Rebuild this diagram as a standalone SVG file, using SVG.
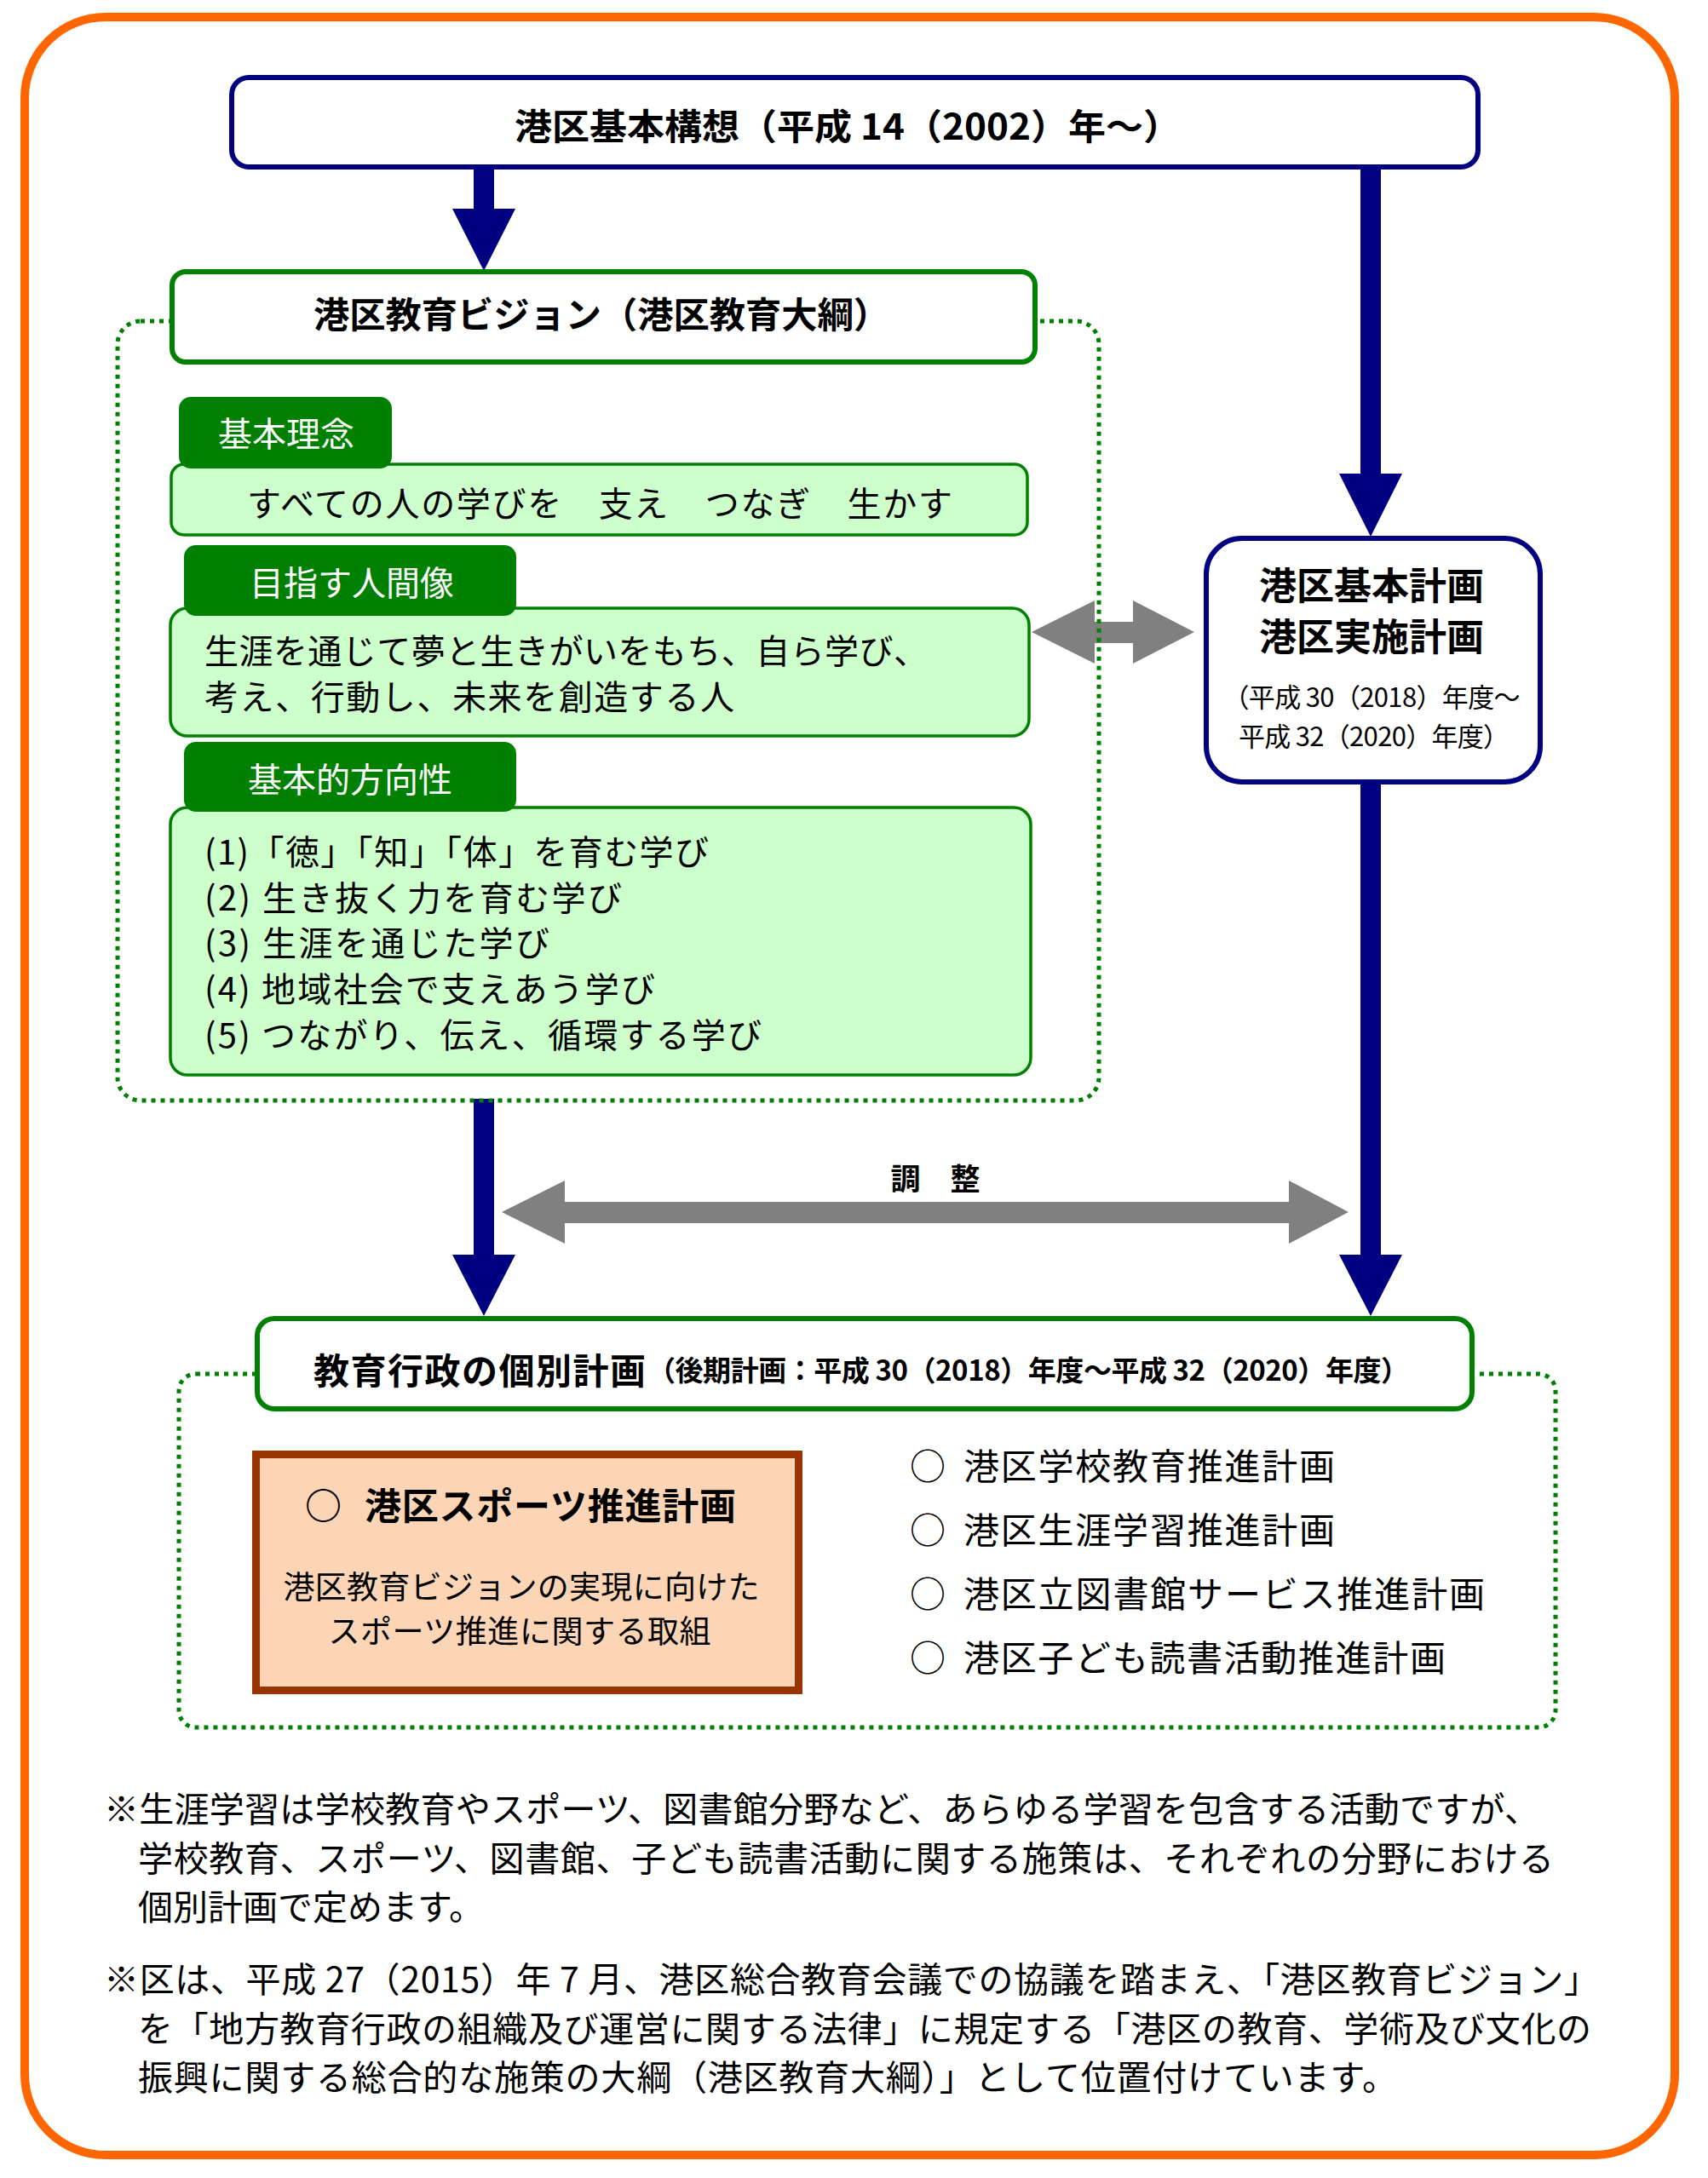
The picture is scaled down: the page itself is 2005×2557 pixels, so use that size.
<svg xmlns="http://www.w3.org/2000/svg" width="2005" height="2557" viewBox="0 0 2005 2557">
<style>
text { font-family: "Noto Sans CJK JP", "Noto Sans CJK SC", sans-serif; dominant-baseline: central; fill: #000; }
.b { font-weight: 700; }
.mid { text-anchor: middle; }
.navy { fill: #000080; }
.gray { fill: #808080; }
.dot { fill: none; stroke: #008000; stroke-width: 5; stroke-dasharray: 5 6; }
.lg { fill: #CCFFCC; stroke: #008000; stroke-width: 3.5; }
.tab { fill: #008000; }
.tabt { fill: #FFFFFF; font-size: 40px; text-anchor: middle; }
.body { font-size: 40px; }
.note { font-size: 41px; }
.list { font-size: 42px; }
</style>
<rect id="frame" x="29" y="20" width="1937" height="2510" rx="95" fill="#FFFFFF" stroke="#FF6600" stroke-width="10"/>

<g id="connectors">
  <polygon class="navy" points="556,196 580,196 580,245 605,245 568,318 531,245 556,245"/>
  <polygon class="navy" points="1597,196 1621,196 1621,556 1646,556 1609,630 1572,556 1597,556"/>
  <polygon class="navy" points="1597,918 1621,918 1621,1473 1646,1473 1609,1545 1572,1473 1597,1473"/>
  <polygon class="navy" points="556,1290 580,1290 580,1473 605,1473 568,1545 531,1473 556,1473"/>
  <polygon class="gray" points="1211,742 1285,705 1285,730 1330,730 1330,705 1402,742 1330,779 1330,755 1285,755 1285,779"/>
  <polygon class="gray" points="589,1423 663,1386 663,1411 1513,1411 1513,1386 1583,1423 1513,1460 1513,1436 663,1436 663,1460"/>
  <text class="b mid" x="1098" y="1381" font-size="35">調　整</text>
</g>

<g id="vision-group">
  <rect class="dot" x="138" y="377" width="1152" height="915" rx="27"/>
</g>

<g id="kihon-koso">
  <rect x="272" y="91" width="1463" height="105" rx="20" fill="#FFFFFF" stroke="#000080" stroke-width="6"/>
  <text class="b mid" x="995" y="145" font-size="42" textLength="782" lengthAdjust="spacingAndGlyphs">港区基本構想（平成 14（2002）年～）</text>
</g>

<g id="vision">
  <rect x="202" y="319" width="1013" height="106" rx="16" fill="#FFFFFF" stroke="#008000" stroke-width="6"/>
  <text class="b mid" x="706" y="366" font-size="42" textLength="676" lengthAdjust="spacingAndGlyphs">港区教育ビジョン（港区教育大綱）</text>
</g>

<g id="rinen">
  <rect class="lg" x="201" y="545" width="1005" height="83" rx="15"/>
  <rect class="tab" x="210" y="466" width="250" height="84" rx="14"/>
  <text class="tabt" x="336" y="507">基本理念</text>
  <text class="body" x="290" y="589" font-size="41" textLength="828">すべての人の学びを　支え　つなぎ　生かす</text>
</g>

<g id="ningenzo">
  <rect class="lg" x="200" y="714" width="1008" height="150" rx="20"/>
  <rect class="tab" x="216" y="640" width="390" height="83" rx="14"/>
  <text class="tabt" x="413" y="682">目指す人間像</text>
  <text class="body" x="240" y="762" textLength="849">生涯を通じて夢と生きがいをもち、自ら学び、</text>
  <text class="body" x="240" y="816" textLength="622">考え、行動し、未来を創造する人</text>
</g>

<g id="hokosei">
  <rect class="lg" x="200" y="948" width="1010" height="314" rx="20"/>
  <rect class="tab" x="216" y="871" width="390" height="82" rx="14"/>
  <text class="tabt" x="411" y="913">基本的方向性</text>
  <text class="body" x="240" y="998" textLength="592">(1)「徳」「知」「体」を育む学び</text>
  <text class="body" x="240" y="1052" textLength="490">(2) 生き抜く力を育む学び</text>
  <text class="body" x="240" y="1105" textLength="405">(3) 生涯を通じた学び</text>
  <text class="body" x="240" y="1159" textLength="529">(4) 地域社会で支えあう学び</text>
  <text class="body" x="240" y="1213" textLength="654">(5) つながり、伝え、循環する学び</text>
</g>

<g id="kihon-keikaku">
  <rect x="1416" y="632" width="392" height="286" rx="42" fill="#FFFFFF" stroke="#000080" stroke-width="6"/>
  <text class="b mid" x="1610" y="685" font-size="44">港区基本計画</text>
  <text class="b mid" x="1610" y="745" font-size="44">港区実施計画</text>
  <text class="mid" x="1610" y="816" font-size="31" textLength="349">（平成 30（2018）年度～</text>
  <text class="mid" x="1613" y="862" font-size="31" textLength="318">平成 32（2020）年度）</text>
</g>

<g id="kobetsu-group">
  <rect class="dot" x="210" y="1613" width="1616" height="415" rx="20"/>
</g>

<g id="kobetsu">
  <rect x="302" y="1548" width="1426" height="106" rx="20" fill="#FFFFFF" stroke="#008000" stroke-width="6"/>
  <text class="b" x="368" y="1606" font-size="42" textLength="390">教育行政の個別計画</text>
  <text class="b" x="760" y="1607" font-size="33" textLength="894">（後期計画：平成 30（2018）年度～平成 32（2020）年度）</text>
</g>

<g id="sports">
  <rect x="300.5" y="1707.5" width="637" height="277" fill="#FBD5B5" stroke="#993300" stroke-width="9"/>
  <text class="b" x="358" y="1765" font-size="43">○<tspan x="428" textLength="436">港区スポーツ推進計画</tspan></text>
  <text class="mid" x="612" y="1861" font-size="37" textLength="559">港区教育ビジョンの実現に向けた</text>
  <text class="mid" x="610" y="1913" font-size="37" textLength="449">スポーツ推進に関する取組</text>
</g>

<g id="plan-list">
  <text class="list" x="1068" y="1718">○<tspan x="1131" textLength="436">港区学校教育推進計画</tspan></text>
  <text class="list" x="1068" y="1793">○<tspan x="1131" textLength="436">港区生涯学習推進計画</tspan></text>
  <text class="list" x="1068" y="1868">○<tspan x="1131" textLength="612">港区立図書館サービス推進計画</tspan></text>
  <text class="list" x="1068" y="1943">○<tspan x="1131" textLength="566">港区子ども読書活動推進計画</tspan></text>
</g>

<g id="notes">
  <text class="note" x="122" y="2121" textLength="1685">※生涯学習は学校教育やスポーツ、図書館分野など、あらゆる学習を包含する活動ですが、</text>
  <text class="note" x="162" y="2179" textLength="1662">学校教育、スポーツ、図書館、子ども読書活動に関する施策は、それぞれの分野における</text>
  <text class="note" x="162" y="2236">個別計画で定めます。</text>
  <text class="note" x="122" y="2321" textLength="1755">※区は、平成 27（2015）年 7 月、港区総合教育会議での協議を踏まえ、「港区教育ビジョン」</text>
  <text class="note" x="162" y="2379" textLength="1706">を「地方教育行政の組織及び運営に関する法律」に規定する「港区の教育、学術及び文化の</text>
  <text class="note" x="162" y="2436" textLength="1478">振興に関する総合的な施策の大綱（港区教育大綱）」として位置付けています。</text>
</g>
</svg>
